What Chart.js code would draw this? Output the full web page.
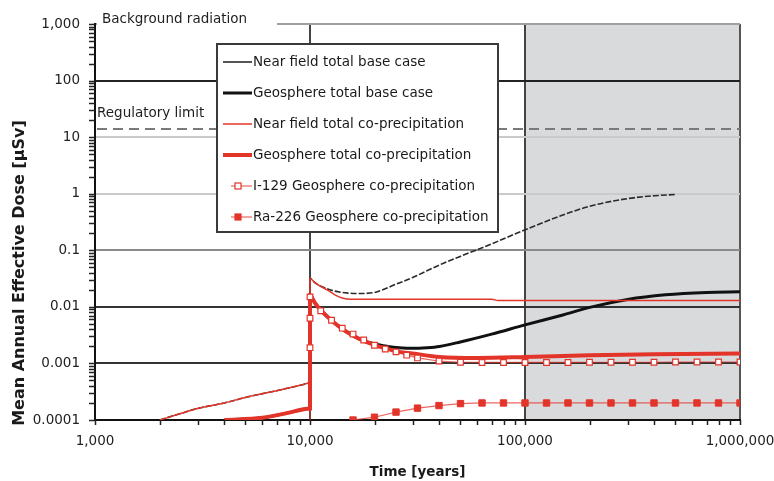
<!DOCTYPE html>
<html>
<head>
<meta charset="utf-8">
<script src="https://cdn.jsdelivr.net/npm/chart.js@4.4.1/dist/chart.umd.min.js"></script>
<style>
  html, body { margin: 0; padding: 0; background: #fff; }
</style>
</head>
<body>
<canvas id="doseChart" width="774" height="481"></canvas>
<script>
// series labels (legend order)
const seriesLabels = [
   'Near field total base case',
   'Geosphere total base case',
   'Near field total co-precipitation',
   'Geosphere total co-precipitation',
   'I-129 Geosphere co-precipitation',
   'Ra-226 Geosphere co-precipitation'
];

// values (time in years, dose in µSv)
const nearFieldBaseYears = [2000, 2500, 3000, 4000, 5000, 7000, 9000, 10000, 10000, 10500, 11000, 12000, 13000, 15000, 17000, 20000, 25000, 30000, 40000, 50000, 70000, 100000, 150000, 200000, 300000, 400000, 500000];
const nearFieldBaseDose = [0.0001, 0.00013, 0.00016, 0.0002, 0.00025, 0.00033, 0.00041, 0.00045, 0.032, 0.027, 0.024, 0.021, 0.019, 0.0175, 0.0172, 0.018, 0.025, 0.033, 0.055, 0.078, 0.13, 0.23, 0.42, 0.6, 0.82, 0.92, 0.97];

const geoBaseYears = [4000, 6000, 8000, 9000, 10000, 10000, 10500, 11000, 12000, 13000, 14000, 15000, 17000, 20000, 23000, 26000, 30000, 35000, 40000, 50000, 70000, 100000, 150000, 200000, 300000, 450000, 700000, 1000000];
const geoBaseDose = [0.0001, 0.00011, 0.000135, 0.00015, 0.00016, 0.016, 0.012, 0.0095, 0.0068, 0.0052, 0.0042, 0.0035, 0.0027, 0.0022, 0.002, 0.0019, 0.00185, 0.0019, 0.002, 0.0024, 0.0033, 0.0048, 0.0072, 0.0098, 0.0135, 0.0163, 0.018, 0.0185];

const nearFieldCoprecYears = [2000, 2500, 3000, 4000, 5000, 7000, 9000, 10000, 10000, 10500, 11000, 12000, 13000, 14000, 15500, 40000, 70000, 75000, 1000000];
const nearFieldCoprecDose = [0.0001, 0.00013, 0.00016, 0.0002, 0.00025, 0.00033, 0.00041, 0.00045, 0.032, 0.027, 0.024, 0.02, 0.0165, 0.0145, 0.0136, 0.0136, 0.0136, 0.013, 0.013];

const geoCoprecYears = [4000, 6000, 8000, 9000, 10000, 10000, 10500, 11000, 12000, 13000, 14000, 15000, 17000, 20000, 23000, 26000, 30000, 40000, 60000, 100000, 200000, 400000, 1000000];
const geoCoprecDose = [0.0001, 0.00011, 0.000135, 0.00015, 0.00016, 0.016, 0.012, 0.0095, 0.0068, 0.0052, 0.0042, 0.0035, 0.0027, 0.0021, 0.0018, 0.0016, 0.0015, 0.0013, 0.00125, 0.0013, 0.0014, 0.00145, 0.0015];

const i129Years = [10000, 10000, 10000, 10000, 11220, 12590, 14130, 15850, 17780, 19950, 22390, 25120, 28180, 31620, 39810, 50120, 63100, 79430, 100000, 125900, 158500, 199500, 251200, 316200, 398100, 501200, 631000, 794300, 1000000];
const i129Dose = [0.00005, 0.0019, 0.0063, 0.015, 0.0085, 0.0058, 0.0042, 0.0033, 0.0026, 0.0021, 0.0018, 0.0016, 0.0014, 0.00125, 0.0011, 0.00105, 0.00104, 0.00104, 0.00104, 0.00104, 0.00104, 0.00105, 0.00105, 0.00105, 0.00105, 0.00106, 0.00106, 0.00106, 0.00106];

const ra226Years = [12590, 15850, 19950, 25120, 31620, 39810, 50120, 63100, 79430, 100000, 125900, 158500, 199500, 251200, 316200, 398100, 501200, 631000, 794300, 1000000];
const ra226Dose = [0.00007, 0.0001, 0.000112, 0.000138, 0.000162, 0.00018, 0.000195, 0.0002, 0.0002, 0.0002, 0.0002, 0.0002, 0.0002, 0.0002, 0.0002, 0.0002, 0.0002, 0.0002, 0.0002, 0.0002];

// reference levels
const regulatoryLimit = 14;
const backgroundRadiation = 1000;
const shadeFromYears = 100000;

// axis ticks
const xTickValues = [1000, 10000, 100000, 1000000];
const xTickLabels = ['1,000', '10,000', '100,000', '1,000,000'];
const yTickValues = [0.0001, 0.001, 0.01, 0.1, 1, 10, 100, 1000];
const yTickLabels = ['0.0001', '0.001', '0.01', '0.1', '1', '10', '100', '1,000'];

// grid line colours per decade
const xGridColors = ['#111', '#444', '#444', '#555'];
const yGridColors = ['#111', '#333', '#333', '#8a8a8a', '#cacaca', '#cacaca', '#222', '#a0a0a0'];

const RED = '#e3342a';
const FONT = '"DejaVu Sans", sans-serif';

function withMinors(decades) {
   var out = [];
   for (var i = 0; i < decades.length; i++) {
      out.push(decades[i]);
      if (i < decades.length - 1) {
         for (var m = 2; m <= 9; m++) out.push(decades[i] * m);
      }
   }
   return out;
}

function decadeIndex(v, list) {
   return list.findIndex(d => Math.abs(Math.log10(v / d)) < 1e-6);
}

function zip(xs, ys) {
   return xs.map((x, i) => ({ x: x, y: ys[i] }));
}

const xTickAll = withMinors(xTickValues);
const yTickAll = withMinors(yTickValues);

// grey band for the far future
const shadePlugin = {
   id: 'shade',
   beforeDraw(chart) {
      const { ctx, chartArea: a, scales: { x } } = chart;
      const x0 = x.getPixelForValue(shadeFromYears);
      ctx.save();
      ctx.fillStyle = '#d9dadc';
      ctx.fillRect(x0, a.top, a.right - x0, a.bottom - a.top);
      ctx.restore();
   }
};

// regulatory limit + background radiation text + tick marks
const refPlugin = {
   id: 'refLines',
   beforeDatasetsDraw(chart) {
      const { ctx, chartArea: a, scales: { x, y } } = chart;
      const yReg = y.getPixelForValue(regulatoryLimit);
      const yBg = y.getPixelForValue(backgroundRadiation);
      ctx.save();

      // tick marks on both axes
      ctx.strokeStyle = '#222';
      ctx.lineWidth = 1.5;
      ctx.beginPath();
      yTickAll.forEach(function(v) {
         const py = Math.round(y.getPixelForValue(v)) + 0.5;
         ctx.moveTo(a.left - 6, py);
         ctx.lineTo(a.left, py);
      });
      xTickAll.forEach(function(v) {
         const px = Math.round(x.getPixelForValue(v)) + 0.5;
         ctx.moveTo(px, a.bottom);
         ctx.lineTo(px, a.bottom + 5);
      });
      ctx.stroke();

      ctx.strokeStyle = '#7a7a7a';
      ctx.lineWidth = 2;
      ctx.setLineDash([10, 6]);
      ctx.beginPath();
      ctx.moveTo(a.left + 2, yReg);
      ctx.lineTo(a.right, yReg);
      ctx.stroke();
      ctx.setLineDash([]);

      ctx.font = '13.5px ' + FONT;
      ctx.fillStyle = '#1e1e1e';
      ctx.textBaseline = 'middle';
      ctx.fillText('Regulatory limit', a.left + 2, yReg - 15);

      ctx.fillStyle = '#fff';
      ctx.fillRect(a.left + 2, yBg - 12, 180, 22);
      ctx.fillStyle = '#1e1e1e';
      ctx.fillText('Background radiation', a.left + 7, yBg - 5);
      ctx.restore();
   }
};

// boxed legend inside the plot
const legendBox = { left: 217, top: 44, width: 281, height: 188, rowGap: 31 };
const legendPlugin = {
   id: 'boxLegend',
   afterDatasetsDraw(chart) {
      const ctx = chart.ctx;
      const b = legendBox;
      ctx.save();
      ctx.fillStyle = '#fff';
      ctx.fillRect(b.left, b.top, b.width, b.height);
      ctx.strokeStyle = '#3a3a3a';
      ctx.lineWidth = 2;
      ctx.strokeRect(b.left, b.top, b.width, b.height);
      ctx.font = '13.5px ' + FONT;
      ctx.textBaseline = 'middle';
      chart.data.datasets.forEach(function(ds, i) {
         const y = b.top + 18 + i * b.rowGap;
         const x0 = b.left + 6;
         const x1 = b.left + 35;
         ctx.strokeStyle = ds.borderColor;
         ctx.lineWidth = ds.borderWidth;
         ctx.beginPath();
         ctx.moveTo(ds.pointRadius ? x0 + 8 : x0, y);
         ctx.lineTo(x1, y);
         ctx.stroke();
         if (ds.pointRadius) {
            const cx = b.left + 21;
            ctx.fillStyle = ds.pointBackgroundColor;
            ctx.fillRect(cx - 3, y - 3, 6, 6);
            ctx.strokeStyle = ds.pointBorderColor;
            ctx.lineWidth = 1.2;
            ctx.strokeRect(cx - 3, y - 3, 6, 6);
         }
         ctx.fillStyle = '#1a1a1a';
         ctx.fillText(ds.label, b.left + 36, y);
      });
      ctx.restore();
   }
};

// axis titles
const titlePlugin = {
   id: 'axisTitles',
   afterDraw(chart) {
      const { ctx, chartArea: a } = chart;
      ctx.save();
      ctx.fillStyle = '#1a1a1a';
      ctx.textAlign = 'center';
      ctx.textBaseline = 'middle';
      ctx.font = 'bold 13.5px ' + FONT;
      ctx.fillText('Time [years]', (a.left + a.right) / 2, 472);
      ctx.translate(20, 273);
      ctx.rotate(-Math.PI / 2);
      ctx.font = 'bold 16px ' + FONT;
      ctx.fillText('Mean Annual Effective Dose [µSv]', 0, 0);
      ctx.restore();
   }
};

const lineBase = {
   fill: false,
   pointRadius: 0,
   pointHoverRadius: 0,
   cubicInterpolationMode: 'monotone'
};

const datasets = [
   Object.assign({}, lineBase, { label: seriesLabels[0], data: zip(nearFieldBaseYears, nearFieldBaseDose), borderColor: '#2a2a2a', borderWidth: 1.6, borderDash: [6, 2], order: 6 }),
   Object.assign({}, lineBase, { label: seriesLabels[1], data: zip(geoBaseYears, geoBaseDose), borderColor: '#111', borderWidth: 3, order: 5 }),
   Object.assign({}, lineBase, { label: seriesLabels[2], data: zip(nearFieldCoprecYears, nearFieldCoprecDose), borderColor: RED, borderWidth: 1.5, order: 4 }),
   Object.assign({}, lineBase, { label: seriesLabels[3], data: zip(geoCoprecYears, geoCoprecDose), borderColor: RED, borderWidth: 4, order: 3 }),
   {
      label: seriesLabels[4], data: zip(i129Years, i129Dose),
      borderColor: 'rgba(227,52,42,0.75)', borderWidth: 1.2, tension: 0,
      pointStyle: 'rect', pointRadius: 4, pointHoverRadius: 4,
      pointBackgroundColor: '#fff', pointBorderColor: RED, pointBorderWidth: 1.2, order: 2
   },
   {
      label: seriesLabels[5], data: zip(ra226Years, ra226Dose),
      borderColor: 'rgba(227,52,42,0.75)', borderWidth: 1.2, tension: 0,
      pointStyle: 'rect', pointRadius: 4.5, pointHoverRadius: 4.5,
      pointBackgroundColor: RED, pointBorderColor: RED, pointBorderWidth: 1, order: 1
   }
];

Chart.defaults.font.family = FONT;

new Chart(document.getElementById('doseChart'), {
   type: 'line',
   data: { datasets: datasets },
   options: {
      responsive: false,
      animation: false,
      devicePixelRatio: 1,
      layout: { padding: { top: 24, right: 34, left: 0, bottom: 0 } },
      plugins: {
         legend: { display: false },
         tooltip: { enabled: false }
      },
      scales: {
         x: {
            type: 'logarithmic',
            min: 1000,
            max: 1000000,
            afterBuildTicks: function(s) { s.ticks = xTickAll.map(v => ({ value: v })); },
            afterFit: function(s) { s.height = 61; s.paddingLeft = 0; s.paddingRight = 0; },
            ticks: {
               autoSkip: false,
               maxRotation: 0,
               padding: 8,
               color: '#222',
               font: { size: 13.5 },
               callback: function(v) {
                  const k = decadeIndex(v, xTickValues);
                  return k >= 0 ? xTickLabels[k] : '';
               }
            },
            grid: {
               color: function(c) {
                  const k = decadeIndex(c.tick.value, xTickValues);
                  return k >= 0 ? xGridColors[k] : 'rgba(0,0,0,0)';
               },
               lineWidth: 2,
               tickColor: 'rgba(0,0,0,0)',
               tickLength: 5
            },
            border: { color: '#111', width: 2 }
         },
         y: {
            type: 'logarithmic',
            min: 0.0001,
            max: 1000,
            afterBuildTicks: function(s) { s.ticks = yTickAll.map(v => ({ value: v })); },
            afterFit: function(s) { s.width = 95; s.paddingTop = 0; s.paddingBottom = 0; },
            ticks: {
               autoSkip: false,
               padding: 10,
               color: '#222',
               font: { size: 13.5 },
               callback: function(v) {
                  const k = decadeIndex(v, yTickValues);
                  return k >= 0 ? yTickLabels[k] : '';
               }
            },
            grid: {
               color: function(c) {
                  const k = decadeIndex(c.tick.value, yTickValues);
                  return k >= 0 ? yGridColors[k] : 'rgba(0,0,0,0)';
               },
               lineWidth: 2,
               tickColor: 'rgba(0,0,0,0)',
               tickLength: 5
            },
            border: { color: '#111', width: 2 }
         }
      }
   },
   plugins: [shadePlugin, refPlugin, legendPlugin, titlePlugin]
});
</script>
</body>
</html>
